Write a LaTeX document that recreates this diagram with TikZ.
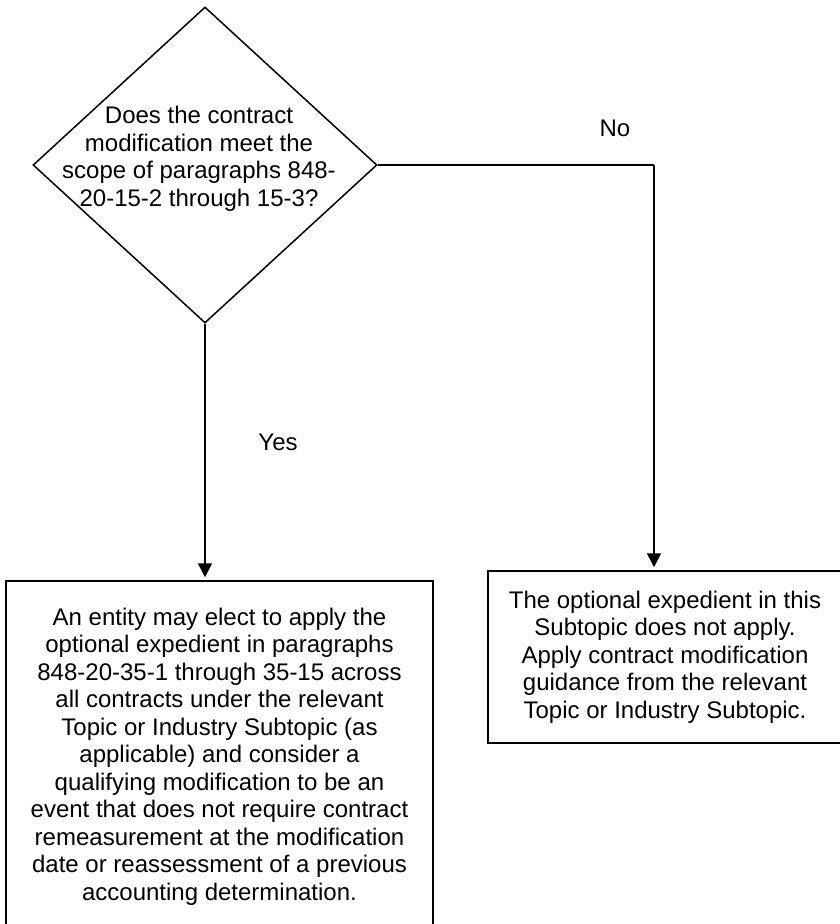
\documentclass[tikz,border=0pt]{standalone}
\usepackage{fontspec}
\setmainfont{Liberation Sans}
\usetikzlibrary{shapes.geometric,arrows.meta}
\begin{document}
\begin{tikzpicture}[x=1pt,y=-1pt,
  lw/.style={line width=1.5pt},
  arr/.style={lw, -{Triangle[length=14pt,width=14pt]}, shorten >=3pt},
  txt/.style={font=\fontsize{24}{27.5}\selectfont, align=center, inner sep=0pt},
  boxst/.style={draw, lw, inner sep=0pt, align=center, font=\fontsize{24}{27.5}\selectfont}
]
\clip (0,0) rectangle (840,924);
\node[diamond, draw, lw, minimum width=344pt, minimum height=316pt, inner sep=0pt] (q) at (205,165) {};
\node[txt] (qt) at (199,159) {Does the contract\\modification meet the\\scope of paragraphs 848-\\20-15-2 through 15-3?};
\node[boxst, minimum width=427pt, minimum height=351pt] (yes) at (219.5,756.5) {An entity may elect to apply the\\optional expedient in paragraphs\\848-20-35-1 through 35-15 across\\all contracts under the relevant\\Topic or Industry Subtopic (as\\applicable) and consider a\\qualifying modification to be an\\event that does not require contract\\remeasurement at the modification\\date or reassessment of a previous\\accounting determination.};
\node[boxst, minimum width=354pt, minimum height=172pt] (no) at (665,657) {The optional expedient in this\\Subtopic does not apply.\\Apply contract modification\\guidance from the relevant\\Topic or Industry Subtopic.};
\coordinate (turn) at (654,165);
\draw[lw] (q.east) -- (turn);
\draw[arr] (turn) -- (turn |- no.north);
\draw[arr] (q.south) -- (q.south |- yes.north);
\node[txt] (nolab) at (615,128) {No};
\node[txt] (yeslab) at (278,442) {Yes};
\end{tikzpicture}
\end{document}
